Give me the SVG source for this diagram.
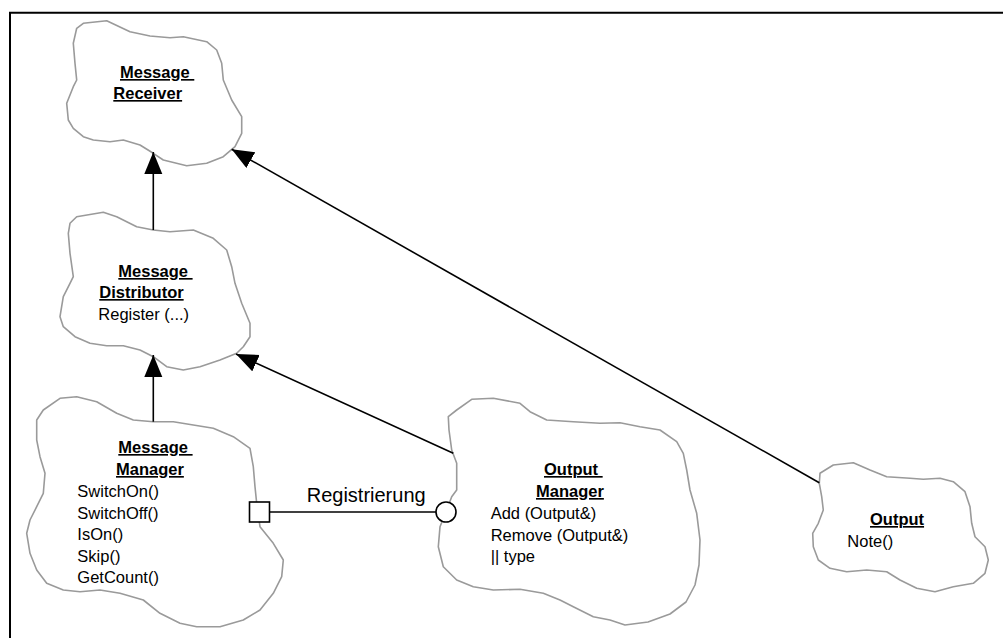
<svg xmlns="http://www.w3.org/2000/svg" width="1003" height="638" viewBox="0 0 1003 638">
  <style>
    .cloud { fill: #ffffff; stroke: #9a9a9a; stroke-width: 1.6; stroke-linejoin: round; }
    .t { font-family: "Liberation Sans", Arial, sans-serif; font-size: 16.5px; fill: #000000; }
    .name { font-weight: bold; text-decoration: underline; }
    .lbl { font-family: "Liberation Sans", Arial, sans-serif; font-size: 20px; fill: #000000; }
    .edge { fill: none; stroke: #000000; stroke-width: 1.6; }
    .frame { fill: none; stroke: #000000; stroke-width: 2; }
  </style>
  <defs>
    <marker id="head" markerUnits="userSpaceOnUse" markerWidth="24" markerHeight="20" refX="22" refY="9" orient="auto">
      <path d="M0,0 L22,9 L0,18 Z" fill="#000000"/>
    </marker>
  </defs>

  <rect width="1003" height="638" fill="#ffffff"/>
  <!-- outer frame, open to the right and bottom -->
  <path class="frame" d="M10,638 L10,12.7 L1003,12.7"/>

  <g id="message-receiver">
    <path class="cloud" d="M76.7,28.3 L83.3,23.3 L106.7,20.7 L130,31.7 L150,36 L170,37.7 L183.3,36.7 L206.7,41.7 L216.7,50 L221.7,63.3 L223.3,80 L231.7,100 L241.7,116.7 L241.7,133.3 L235,146.7 L223.3,156.7 L206.7,163.3 L186.7,165.7 L163.3,160 L153.3,153.3 L140,145 L123.3,140 L110,141.7 L93.3,140 L83.3,136.7 L73.3,128.3 L68.3,120 L66.7,103.3 L73.3,86.7 L76.7,80 L75,63.3 L73.3,43.3 Z"/>
    <text class="t name" x="120" y="78">Message&#160;</text>
    <text class="t name" x="113.3" y="99">Receiver</text>
  </g>

  <g id="message-distributor">
    <path class="cloud" d="M70,223.3 L76.7,216.7 L103.3,212.3 L116.7,216.7 L136.7,226.7 L153.3,230 L170,231.7 L193.3,230 L213.3,238.3 L226.7,250 L231.7,266.7 L235,283.3 L241.7,303.3 L250,323.3 L250,336.7 L243.3,346.7 L236.7,353.3 L220,360 L200,366.7 L183.3,370 L166.7,366.7 L153.3,356.7 L140,350 L123.3,345.7 L106.7,345.7 L90,343.3 L75,336.7 L63.3,326.7 L60,316.7 L63.3,296.7 L70,283.3 L73.3,276.7 L70,253.3 L68.3,233.3 Z"/>
    <text class="t name" x="118.3" y="277">Message&#160;</text>
    <text class="t name" x="99.3" y="298">Distributor</text>
    <text class="t" x="98.3" y="320">Register (...)</text>
  </g>

  <g id="message-manager">
    <path class="cloud" d="M36.7,420 L43.3,410 L60,398.3 L76.7,396.7 L96.7,401.7 L116.7,413.3 L133.3,420 L153.3,421.7 L173.3,421.7 L193.3,425 L213.3,428.3 L233.3,436.7 L250,448.3 L253.3,466.7 L255,486.7 L256.7,503.3 L260,526.7 L273.3,543.3 L283.3,560 L281.7,576.7 L273.3,593.3 L260,610 L243.3,620 L220,626.7 L196.7,626.7 L180,623.3 L160,613.3 L143.3,600 L120,593.3 L100,590 L80,591.7 L63.3,590 L46.7,583.3 L36.7,570 L30,553.3 L26.7,533.3 L30,520 L36.7,506.7 L43.3,493.3 L45,473.3 L40,456.7 L36.7,440 Z"/>
    <text class="t name" x="118.3" y="453">Message&#160;</text>
    <text class="t name" x="116" y="475">Manager</text>
    <text class="t" x="77.3" y="497">SwitchOn()</text>
    <text class="t" x="77.3" y="519">SwitchOff()</text>
    <text class="t" x="77.3" y="540">IsOn()</text>
    <text class="t" x="77.3" y="562">Skip()</text>
    <text class="t" x="77.3" y="583">GetCount()</text>
  </g>

  <g id="output-manager">
    <path class="cloud" d="M448.3,416.7 L456.7,410 L471.7,399.3 L493.3,398.3 L520,403.3 L530,411.7 L546.7,420 L573.3,421.7 L600,423.3 L620,422.7 L640,426.7 L660,430 L676.7,441.7 L683.3,453.3 L686.7,470 L690,490 L696.7,513.3 L700,540 L699,565 L695,585 L686,602 L670,614 L648,622 L625,625 L610,620 L593.3,616.7 L573.3,606.7 L560,600 L543.3,593.3 L520,589.3 L493.3,590 L473.3,586.7 L456.7,580 L443.3,566.7 L438.3,546.7 L440,526.7 L446,512 L451.7,496.7 L456.7,490 L456.7,463.3 L451.7,450 L449,430 Z"/>
    <text class="t name" x="544" y="475">Output&#160;</text>
    <text class="t name" x="536" y="497">Manager</text>
    <text class="t" x="490.7" y="518.5">Add (Output&amp;)</text>
    <text class="t" x="490.7" y="540.5">Remove (Output&amp;)</text>
    <text class="t" x="490.7" y="562">|| type</text>
  </g>

  <g id="output">
    <path class="cloud" d="M820,473.3 L833.3,465 L853.3,462.7 L870,470 L886.7,476.7 L910,478.3 L923.3,479.3 L940,478.3 L953.3,481.7 L965,491.7 L970,506.7 L971.7,523.3 L975,536.7 L985,546.7 L988.3,560 L985,573.3 L973.3,583.3 L953.3,586.7 L935,591.7 L916.7,588.3 L900,580 L886.7,571.7 L866.7,570 L846.7,571.7 L830,568.3 L818.3,560 L813.3,546.7 L812.7,533.3 L818.3,523.3 L823.3,510 L821.7,496.7 L819.3,483.3 Z"/>
    <text class="t name" x="870" y="525">Output</text>
    <text class="t" x="847.3" y="547">Note()</text>
  </g>

  <g id="connectors">
    <!-- generalisation arrows -->
    <line class="edge" x1="153.3" y1="230" x2="153.3" y2="152" marker-end="url(#head)"/>
    <line class="edge" x1="153.3" y1="421.7" x2="153.3" y2="355" marker-end="url(#head)"/>
    <line class="edge" x1="453.3" y1="453.3" x2="236" y2="354" marker-end="url(#head)"/>
    <line class="edge" x1="819.3" y1="482.7" x2="231.7" y2="149.3" marker-end="url(#head)"/>
    <!-- registration link between the two managers -->
    <line class="edge" x1="269.5" y1="512" x2="436" y2="512"/>
    <rect x="249.5" y="502" width="20" height="20" fill="#ffffff" stroke="#000000" stroke-width="1.6"/>
    <circle cx="446" cy="512" r="10" fill="#ffffff" stroke="#000000" stroke-width="1.6"/>
    <text class="lbl" x="306.7" y="501.7">Registrierung</text>
  </g>
</svg>
